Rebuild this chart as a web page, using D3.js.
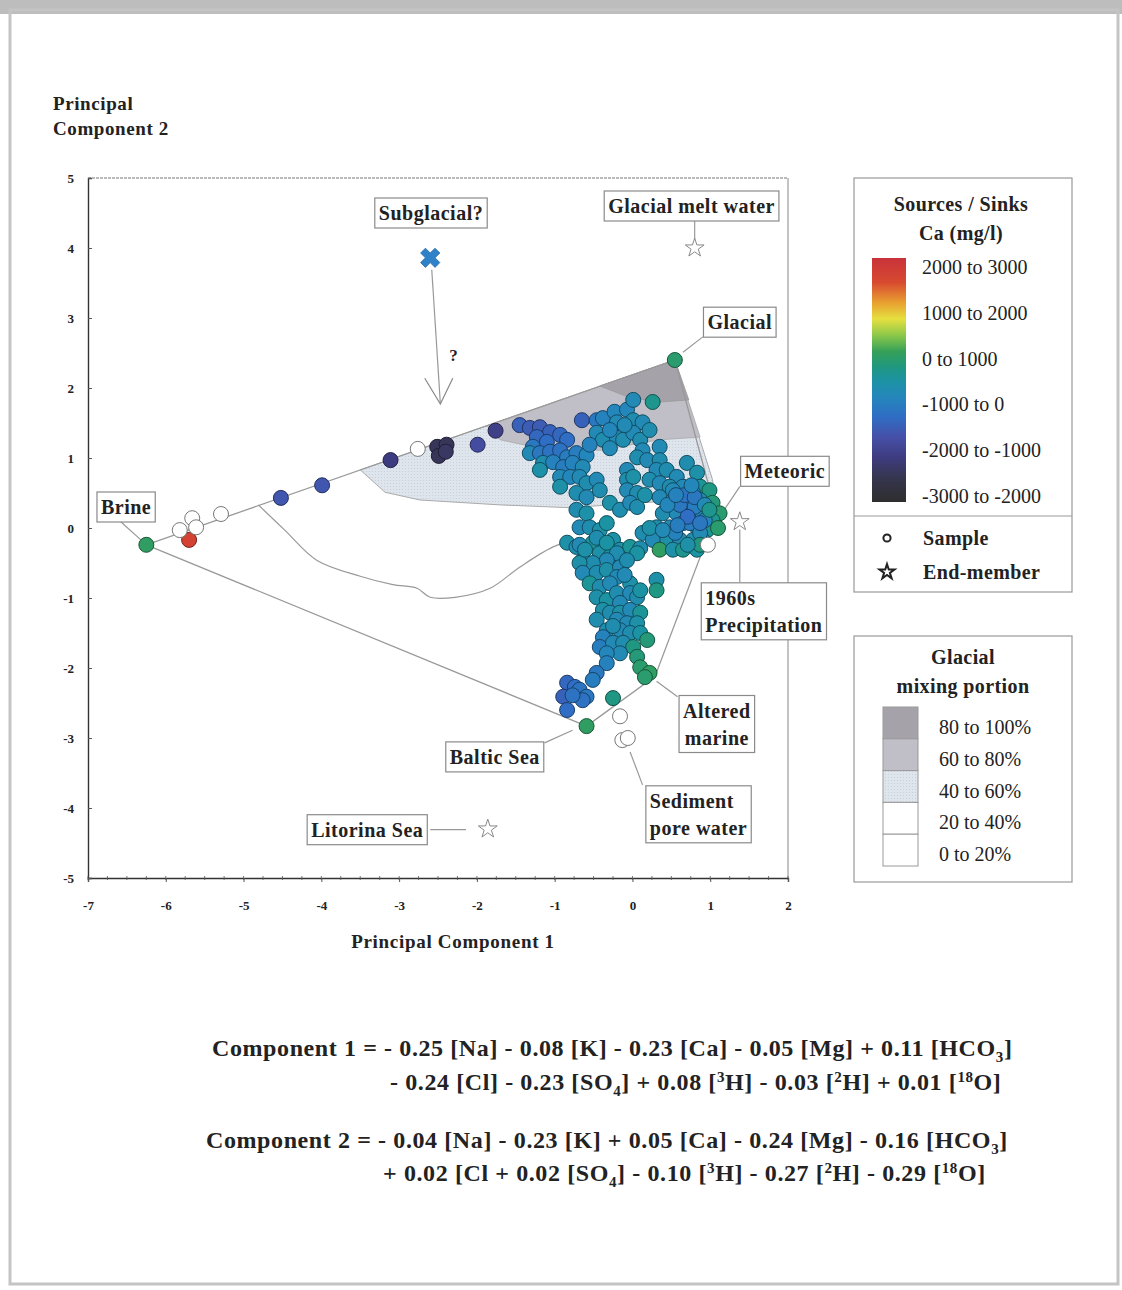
<!DOCTYPE html>
<html>
<head>
<meta charset="utf-8">
<script src="https://cdn.jsdelivr.net/npm/d3@7"></script>
<style>
  body { margin: 0; background: #fff; }
  text { font-family: "Liberation Serif", "Times New Roman", serif; fill: #222; }
</style>
</head>
<body>
<svg id="chart" width="1122" height="1290"></svg>
<script>
// ---------------- data ----------------
const xTicks = [-7, -6, -5, -4, -3, -2, -1, 0, 1, 2];
const yTicks = [5, 4, 3, 2, 1, 0, -1, -2, -3, -4, -5];

// [PC1, PC2, Ca source/sink (mg/l)], null = sample without Ca value (open circle)
const samples = [
  // along the Brine - Glacial mixing line
  [-6.25, -0.24, 600], [-5.70, -0.17, 2600],
  [-5.82, -0.03, null], [-5.66, 0.14, null], [-5.61, 0.01, null], [-5.29, 0.20, null],
  [-4.52, 0.43, -1300], [-3.99, 0.61, -1300], [-3.11, 0.97, -1900], [-2.76, 1.13, null],
  [-2.51, 1.16, -2300], [-2.39, 1.19, -2300], [-2.49, 1.03, -2300], [-2.40, 1.09, -2200],
  [-1.99, 1.19, -1500], [-1.76, 1.39, -1800],
  [0.545, 2.40, 500],
  // upper left of the cluster
  [-1.45, 1.47, -1100], [-1.32, 1.43, -1200], [-1.19, 1.44, -1200], [-1.06, 1.37, -1100],
  [-0.93, 1.33, -1000], [-0.84, 1.26, -900], [-1.23, 1.30, -1000], [-1.10, 1.23, -900],
  [-1.28, 1.16, -700], [-1.32, 1.07, -300], [-1.19, 1.07, -700], [-1.06, 1.09, -800],
  [-0.93, 1.11, -800], [-0.84, 1.01, -600], [-0.72, 1.07, -600], [-0.59, 1.04, -400],
  [-1.15, 0.93, -200], [-1.02, 0.94, -500], [-0.89, 0.87, -600], [-0.77, 0.93, -500],
  [-0.64, 0.87, -300], [-1.19, 0.83, -100], [-0.93, 0.73, -300], [-0.80, 0.73, -400],
  [-0.68, 0.73, -300], [-0.59, 0.64, -200], [-0.46, 0.69, -300], [-0.93, 0.59, -100],
  [-0.72, 0.50, -200], [-0.59, 0.44, -300], [-0.42, 0.54, -200], [-0.29, 0.36, -100],
  [-0.16, 0.26, -200], [-0.72, 0.26, -200], [-0.59, 0.21, -100], [-0.68, 0.01, -300],
  [-0.55, 0.01, -200], [-0.42, -0.03, -100], [-0.33, 0.07, 0], [-0.25, -0.17, -100],
  [-0.84, -0.21, -100], [-0.72, -0.27, -200], [-0.51, -0.21, 100], [-0.42, -0.36, -100],
  [-0.64, -0.46, -200], [-0.29, -0.41, 0], [-0.16, -0.31, -100], [-0.03, -0.27, 100],
  // top of the cluster
  [-0.65, 1.54, -1100], [-0.46, 1.54, -700], [-0.38, 1.57, -500], [-0.23, 1.66, -400],
  [-0.07, 1.69, -400], [0.01, 1.83, -300], [0.26, 1.80, 200], [-0.20, 1.51, -300],
  [0.01, 1.54, -200], [0.13, 1.51, -300], [-0.46, 1.36, -300], [-0.38, 1.26, -200],
  [-0.20, 1.29, -300], [-0.12, 1.26, -200], [0.01, 1.36, -300], [0.10, 1.26, -200],
  [0.13, 1.11, -300], [0.06, 1.01, -200], [0.19, 0.97, -300], [0.35, 1.16, -300],
  [0.35, 0.97, -200], [0.31, 0.83, -300], [0.44, 0.83, -200], [-0.07, 0.83, -300],
  [-0.07, 0.69, -200], [0.01, 0.73, -100], [-0.07, 0.54, -300], [0.06, 0.50, -200],
  [-0.03, 0.36, -300], [0.06, 0.30, -200],
  [-0.29, 1.40, -400], [-0.10, 1.47, -300], [0.22, 1.40, -200], [-0.55, 1.19, -500],
  [-0.29, 1.14, -300], [0.22, 0.69, -200], [0.16, 0.47, -100],
  // meteoric cluster
  [0.70, 0.93, -200], [0.83, 0.79, -100], [0.57, 0.73, -300], [0.35, 0.64, -300],
  [0.48, 0.59, -200], [0.65, 0.59, -300], [0.87, 0.59, 100], [0.99, 0.54, 300],
  [0.35, 0.44, -300], [0.52, 0.40, -200], [0.70, 0.40, -400], [0.87, 0.40, -100],
  [1.03, 0.36, 400], [1.12, 0.21, 500], [0.39, 0.21, -200], [0.57, 0.21, -300],
  [0.74, 0.21, -500], [0.90, 0.21, -200], [1.03, 0.11, 200], [0.31, 0.01, -200],
  [0.48, 0.01, -300], [0.65, 0.07, -400], [0.83, 0.01, -300], [0.96, -0.03, 100],
  [0.44, -0.17, -100], [0.61, -0.17, -200], [0.78, -0.17, -200], [0.90, -0.17, 200],
  [0.13, -0.07, -200], [0.26, -0.17, -300], [0.35, -0.31, 600], [0.52, -0.31, -100],
  [0.65, -0.31, 200], [0.83, -0.31, 0], [0.52, 0.54, -300], [0.78, 0.50, -200],
  [0.61, 0.33, -700], [0.80, 0.30, -600], [0.74, 0.07, -600], [0.93, 0.11, -400],
  [0.55, -0.07, -500], [0.10, -0.29, -200], [0.22, 0.00, -100], [0.87, -0.07, -300],
  [0.67, 0.47, -800], [0.80, 0.44, -700], [0.71, 0.16, -900], [0.58, 0.04, -600],
  [0.87, 0.07, -700], [0.45, 0.33, -400], [0.93, 0.33, -300], [0.76, 0.61, -400],
  [0.56, 0.47, -500], [0.99, 0.26, 200], [0.87, -0.24, 300], [0.71, -0.24, -100],
  [0.39, -0.03, -300], [1.10, 0.00, 500],
  [0.97, -0.24, null],
  // lower column
  [-0.68, -0.24, -300], [-0.46, -0.14, -200], [-0.33, -0.21, 0], [0.06, -0.36, 0],
  [-0.20, -0.36, -200], [-0.33, -0.46, -300], [-0.51, -0.50, -200], [-0.68, -0.50, -100],
  [-0.64, -0.64, -300], [-0.46, -0.64, -200], [-0.33, -0.60, -100], [-0.16, -0.56, -300],
  [-0.07, -0.46, -200], [-0.20, -0.70, -300], [-0.03, -0.79, -100], [-0.55, -0.79, 100],
  [-0.42, -0.84, -200], [-0.29, -0.79, -300], [-0.46, -0.99, -100], [-0.33, -1.03, 0],
  [-0.20, -0.93, -200], [-0.03, -0.93, -300], [0.06, -0.99, -200], [-0.16, -1.07, -300],
  [-0.38, -1.17, -100], [-0.29, -1.21, -200], [-0.16, -1.21, -100], [-0.03, -1.17, -300],
  [0.10, -1.21, 100], [-0.46, -1.31, -200], [-0.20, -1.31, -300], [-0.07, -1.36, -300],
  [0.06, -1.36, -100], [-0.33, -1.46, -200], [-0.16, -1.46, -300], [-0.03, -1.50, -200],
  [0.10, -1.50, 0], [0.19, -1.60, 400], [-0.38, -1.56, -500], [-0.42, -1.70, -600],
  [-0.25, -1.64, -300], [-0.12, -1.64, -200], [0.01, -1.70, 300], [-0.16, -1.79, -300],
  [0.06, -1.84, 400], [-0.33, -1.79, -400], [-0.33, -1.93, -500], [-0.46, -2.07, -700],
  [-0.51, -2.17, -600], [0.10, -1.99, 500], [0.22, -2.07, 600], [0.16, -2.13, 500],
  [0.31, -0.74, -100], [0.31, -0.89, 300],
  [-0.61, -0.31, -100], [-0.10, -0.67, -300], [0.10, -0.89, 0], [-0.25, -1.40, -200],
  // towards Baltic Sea
  [-0.84, -2.21, -1000], [-0.74, -2.27, -900], [-0.68, -2.31, -800], [-0.59, -2.41, -700],
  [-0.64, -2.46, -800], [-0.89, -2.41, -1100], [-0.84, -2.60, -900], [-0.77, -2.39, -800],
  [-0.25, -2.43, 300], [-0.59, -2.83, 600],
  // sediment pore water
  [-0.16, -2.69, null], [-0.13, -3.03, null], [-0.06, -3.00, null]
];

// end-members drawn as stars
const endMembers = [[0.80, 4.00], [1.38, 0.09], [-1.86, -4.30]];
const subglacial = [-2.60, 3.86];

// mixing polygon corners
const brine = [-6.25, -0.24], glacial = [0.545, 2.40], baltic = [-0.59, -2.83];
const meteoricCorner = [1.08, 0.20], alteredMarine = [0.29, -2.12];

// glacial mixing portion zones
const zoneLight = [[-3.50, 0.83], [0.545, 2.40], [1.03, 0.69], [1.06, 0.36], [0.74, 0.40], [0.10, 0.36],
  [-0.80, 0.29], [-1.70, 0.33], [-2.73, 0.40], [-3.18, 0.51]];
const zoneMid = [[-1.87, 1.46], [0.545, 2.40], [0.87, 1.30], [0.35, 1.26], [-0.42, 1.11], [-1.19, 1.14], [-1.70, 1.26]];
const zoneDark = [[-0.42, 2.03], [0.545, 2.40], [0.725, 1.83], [0.35, 1.80], [-0.03, 1.86]];
const zone20 = [[-4.81, 0.33], [-4.47, -0.03], [-4.06, -0.46], [-3.50, -0.69], [-3.08, -0.81], [-2.77, -0.86],
  [-2.60, -0.99], [-2.28, -0.99], [-1.83, -0.86], [-1.45, -0.56], [-1.02, -0.27], [-0.74, -0.17]];

const caStops  = [3000, 2400, 1900, 1500, 1100, 700, 300, 0, -400, -900, -1400, -1900, -2400, -3000];
const caColors = ["#c8323a", "#d84a30", "#e8a030", "#e6e040", "#8cc84a", "#35a058", "#1f9782", "#1c93a2",
  "#2487bb", "#2f6ec4", "#4650a8", "#3e3c80", "#35354f", "#2e2e2e"];
const caLabels = ["2000 to 3000", "1000 to 2000", "0 to 1000", "-1000 to 0", "-2000 to -1000", "-3000 to -2000"];

const mixLabels = ["80 to 100%", "60 to 80%", "40 to 60%", "20 to 40%", "0 to 20%"];
const mixColors = ["#a6a2aa", "#c0bec6", "#dfe5ec", "#ffffff", "#ffffff"];

const annotations = [
  { text: ["Brine"], at: [-6.51, 0.30], lead: [[-6.59, 0.10], [-6.32, -0.17]] },
  { text: ["Subglacial?"], at: [-2.59, 4.50] },
  { text: ["Glacial melt water"], at: [0.76, 4.60], lead: [[0.80, 4.40], [0.80, 4.12]] },
  { text: ["Glacial"], at: [1.38, 2.94], lead: [[0.905, 2.73], [0.65, 2.51]] },
  { text: ["Meteoric"], at: [1.96, 0.81], lead: [[1.38, 0.59], [1.15, 0.21]] },
  { text: ["1960s", "Precipitation"], at: [1.69, -1.19], lead: [[1.38, -0.02], [1.38, -0.77]], left: true },
  { text: ["Altered", "marine"], at: [1.085, -2.80], lead: [[0.31, -2.19], [0.58, -2.41]] },
  { text: ["Baltic Sea"], at: [-1.77, -3.27], lead: [[-1.13, -3.07], [-0.77, -2.89]] },
  { text: ["Sediment", "pore water"], at: [0.85, -4.09], lead: [[-0.03, -3.20], [0.13, -3.67]], left: true },
  { text: ["Litorina Sea"], at: [-3.41, -4.31], lead: [[-2.60, -4.31], [-2.14, -4.31]] }
];

const eq1 = ["Component 1 = - 0.25 [Na] - 0.08 [K] - 0.23 [Ca] - 0.05 [Mg] + 0.11 [HCO_3]",
             "- 0.24 [Cl] - 0.23 [SO_4] + 0.08 [^3H] - 0.03 [^2H] + 0.01 [^18O]"];
const eq2 = ["Component 2 = - 0.04 [Na] - 0.23 [K] + 0.05 [Ca] - 0.24 [Mg] - 0.16 [HCO_3]",
             "+ 0.02 [Cl + 0.02 [SO_4] - 0.10 [^3H] - 0.27 [^2H] - 0.29 [^18O]"];

// ---------------- drawing ----------------
const svg = d3.select("#chart");

// scanned page frame
svg.append("rect").attr("x", 0).attr("y", 0).attr("width", 1122).attr("height", 14).attr("fill", "#bdbdbd");
svg.append("rect").attr("x", 10).attr("y", 10).attr("width", 1108).attr("height", 1274)
  .attr("fill", "none").attr("stroke", "#c4c4c4").attr("stroke-width", 3);

const x = d3.scaleLinear().domain([-7, 2]).range([88, 788]);
const y = d3.scaleLinear().domain([-5, 5]).range([878, 178]);
const color = d3.scaleLinear().domain(caStops).range(caColors);

// dotted pattern for 40-60% zone
const defs = svg.append("defs");
const pat = defs.append("pattern").attr("id", "dots").attr("width", 3).attr("height", 3)
  .attr("patternUnits", "userSpaceOnUse");
pat.append("rect").attr("width", 3).attr("height", 3).attr("fill", mixColors[2]);
pat.append("rect").attr("width", 1).attr("height", 1).attr("fill", "#c9d0da");

const line = d3.line().x(d => x(d[0])).y(d => y(d[1]));
const zones = svg.append("g");
zones.append("path").attr("d", line(zoneLight) + "Z").attr("fill", "url(#dots)").attr("stroke", "#aaa").attr("stroke-width", 1);
zones.append("path").attr("d", line(zoneMid) + "Z").attr("fill", mixColors[1]).attr("stroke", "#aaa").attr("stroke-width", 0.8);
zones.append("path").attr("d", line(zoneDark) + "Z").attr("fill", mixColors[0]).attr("stroke", "#999").attr("stroke-width", 0.8);
zones.append("path").attr("d", d3.line().x(d => x(d[0])).y(d => y(d[1])).curve(d3.curveCatmullRom)(zone20))
  .attr("fill", "none").attr("stroke", "#999").attr("stroke-width", 1.2);

// mixing lines
const mix = svg.append("g").attr("fill", "none").attr("stroke", "#999").attr("stroke-width", 1.3);
mix.append("path").attr("d", line([brine, glacial]));
mix.append("path").attr("d", line([brine, baltic]));
mix.append("path").attr("d", line([glacial, meteoricCorner, alteredMarine, baltic]));

// frame and axes
svg.append("line").attr("x1", x(-7)).attr("x2", x(2)).attr("y1", y(5)).attr("y2", y(5))
  .attr("stroke", "#777").attr("stroke-width", 1).attr("stroke-dasharray", "3,1");
svg.append("line").attr("x1", x(2)).attr("x2", x(2)).attr("y1", y(5)).attr("y2", y(-5))
  .attr("stroke", "#888").attr("stroke-width", 1);

const xAxis = svg.append("g").attr("transform", `translate(0,${y(-5)})`)
  .call(d3.axisBottom(x).tickValues(xTicks).tickSize(4).tickPadding(19).tickFormat(d3.format("d")));
const yAxis = svg.append("g").attr("transform", `translate(${x(-7)},0)`)
  .call(d3.axisLeft(y).tickValues(yTicks).tickSize(-4).tickPadding(14).tickFormat(d3.format("d")));
[xAxis, yAxis].forEach(a => {
  a.select(".domain").attr("stroke", "#333").attr("stroke-width", 1.4);
  a.selectAll(".tick line").attr("stroke", "#555");
  a.selectAll(".tick text").attr("font-family", "Liberation Serif").attr("font-size", 13)
    .attr("font-weight", "bold").attr("fill", "#333")
    .text(d => d < 0 ? "-" + Math.abs(d) : d);
});
// minor ticks on x axis
svg.append("g").selectAll("line").data(d3.range(-7, 2.001, 0.25)).join("line")
  .attr("x1", d => x(d)).attr("x2", d => x(d)).attr("y1", y(-5) - 2).attr("y2", y(-5) + 2)
  .attr("stroke", "#555").attr("stroke-width", 0.8);

// axis titles
svg.append("text").attr("x", 53).attr("y", 110).attr("font-size", 19).attr("font-weight", "bold")
  .attr("letter-spacing", 0.6).text("Principal");
svg.append("text").attr("x", 53).attr("y", 135).attr("font-size", 19).attr("font-weight", "bold")
  .attr("letter-spacing", 0.6).text("Component 2");
svg.append("text").attr("x", (x(-7) + x(2)) / 2 + 15).attr("y", 948).attr("text-anchor", "middle")
  .attr("font-size", 19).attr("font-weight", "bold").attr("letter-spacing", 0.7).text("Principal Component 1");

// leader lines
const leads = svg.append("g").attr("stroke", "#999").attr("stroke-width", 1.2).attr("fill", "none");
annotations.filter(a => a.lead).forEach(a => leads.append("path").attr("d", line(a.lead)));

// subglacial arrow
leads.append("path").attr("d", line([[-2.58, 3.69], [-2.47, 1.78]]));
leads.append("path").attr("d", line([[-2.67, 2.14], [-2.47, 1.77], [-2.31, 2.14]])).attr("stroke", "#888");
svg.append("text").attr("x", x(-2.30)).attr("y", y(2.47)).attr("text-anchor", "middle").attr("dy", "0.35em")
  .attr("font-size", 17).attr("font-weight", "bold").text("?");

// samples
svg.append("g").selectAll("circle").data(samples).join("circle")
  .attr("cx", d => x(d[0])).attr("cy", d => y(d[1])).attr("r", 7.5)
  .attr("fill", d => d[2] === null ? "#fff" : color(d[2]))
  .attr("stroke", d => d[2] === null ? "#777" : d3.color(color(d[2])).darker(1.7))
  .attr("stroke-width", 1);

// end-members
svg.append("g").selectAll("path").data(endMembers).join("path")
  .attr("d", d3.symbol(d3.symbolStar, 110))
  .attr("transform", d => `translate(${x(d[0])},${y(d[1])})`)
  .attr("fill", "#fff").attr("stroke", "#888").attr("stroke-width", 1);
svg.append("path").attr("d", d3.symbol(d3.symbolCross, 230))
  .attr("transform", `translate(${x(subglacial[0])},${y(subglacial[1])}) rotate(45)`)
  .attr("fill", "#2f82c8").attr("stroke", "#2a6fae").attr("stroke-width", 0.8);

// label boxes
annotations.forEach(a => {
  const g = svg.append("g");
  const lh = 27;
  const cx = x(a.at[0]), cy = y(a.at[1]);
  const t = g.append("text").attr("font-size", 20).attr("font-weight", "bold").attr("letter-spacing", 0.5)
    .attr("text-anchor", a.left ? "start" : "middle");
  a.text.forEach((s, i) => t.append("tspan").attr("x", cx).attr("y", cy + (i - (a.text.length - 1) / 2) * lh)
    .attr("dy", "0.35em").text(s));
  const bb = t.node().getBBox();
  const w = bb.width + 8;
  const bx = cx - w / 2;
  if (a.left) t.selectAll("tspan").attr("x", bx + 4);
  const h = a.text.length * lh + 3;
  g.insert("rect", "text").attr("x", bx).attr("y", cy - h / 2).attr("width", w).attr("height", h)
    .attr("fill", "#fff").attr("stroke", "#8a8a8a").attr("stroke-width", 1.2);
});

// ---- legend 1: Ca sources / sinks ----
const L1 = svg.append("g");
L1.append("rect").attr("x", 854).attr("y", 178).attr("width", 218).attr("height", 414)
  .attr("fill", "#fff").attr("stroke", "#999").attr("stroke-width", 1.2);
L1.append("line").attr("x1", 854).attr("x2", 1072).attr("y1", 516).attr("y2", 516).attr("stroke", "#999").attr("stroke-width", 1.2);
L1.append("text").attr("x", 961).attr("y", 211).attr("text-anchor", "middle").attr("font-size", 20)
  .attr("font-weight", "bold").attr("letter-spacing", 0.4).text("Sources / Sinks");
L1.append("text").attr("x", 961).attr("y", 240).attr("text-anchor", "middle").attr("font-size", 20)
  .attr("font-weight", "bold").attr("letter-spacing", 0.4).text("Ca (mg/l)");

const barY = d3.scaleLinear().domain([3000, -3000]).range([258, 502]);
const grad = defs.append("linearGradient").attr("id", "caGrad").attr("x1", 0).attr("x2", 0).attr("y1", 0).attr("y2", 1);
caStops.forEach((v, i) => grad.append("stop").attr("offset", (barY(v) - 258) / 244).attr("stop-color", caColors[i]));
L1.append("rect").attr("x", 872).attr("y", barY(3000)).attr("width", 34).attr("height", barY(-3000) - barY(3000))
  .attr("fill", "url(#caGrad)");
const labY = d3.scaleLinear().domain([0, caLabels.length - 1]).range([267, 496]);
L1.selectAll(".calab").data(caLabels).join("text").attr("class", "calab")
  .attr("x", 922).attr("y", (d, i) => labY(i)).attr("dy", "0.35em").attr("font-size", 20).text(d => d);

L1.append("circle").attr("cx", 887).attr("cy", 538).attr("r", 3.6).attr("fill", "#fff").attr("stroke", "#222").attr("stroke-width", 2);
L1.append("text").attr("x", 923).attr("y", 538).attr("dy", "0.35em").attr("font-size", 20).attr("font-weight", "bold")
  .attr("letter-spacing", 0.4).text("Sample");
L1.append("path").attr("d", d3.symbol(d3.symbolStar, 70)).attr("transform", "translate(887,572)")
  .attr("fill", "#fff").attr("stroke", "#222").attr("stroke-width", 2);
L1.append("text").attr("x", 923).attr("y", 572).attr("dy", "0.35em").attr("font-size", 20).attr("font-weight", "bold")
  .attr("letter-spacing", 0.4).text("End-member");

// ---- legend 2: glacial mixing portion ----
const L2 = svg.append("g");
L2.append("rect").attr("x", 854).attr("y", 636).attr("width", 218).attr("height", 246)
  .attr("fill", "#fff").attr("stroke", "#999").attr("stroke-width", 1.2);
L2.append("text").attr("x", 963).attr("y", 664).attr("text-anchor", "middle").attr("font-size", 20)
  .attr("font-weight", "bold").attr("letter-spacing", 0.4).text("Glacial");
L2.append("text").attr("x", 963).attr("y", 693).attr("text-anchor", "middle").attr("font-size", 20)
  .attr("font-weight", "bold").attr("letter-spacing", 0.4).text("mixing portion");
const swY = d3.scaleBand().domain(mixLabels).range([707, 866]);
L2.selectAll(".sw").data(mixLabels).join("rect").attr("class", "sw")
  .attr("x", 883).attr("y", d => swY(d)).attr("width", 35).attr("height", swY.bandwidth())
  .attr("fill", (d, i) => i === 2 ? "url(#dots)" : mixColors[i]).attr("stroke", "#999").attr("stroke-width", 1);
L2.selectAll(".swl").data(mixLabels).join("text").attr("class", "swl")
  .attr("x", 939).attr("y", d => swY(d) + swY.bandwidth() / 2 + 4).attr("dy", "0.35em").attr("font-size", 20).text(d => d);

// ---- equations ----
function eqText(str, x0, y0) {
  const t = svg.append("text").attr("x", x0).attr("y", y0).attr("font-size", 24).attr("font-weight", "bold")
    .attr("letter-spacing", 0.6);
  const parts = str.split(/([_^]\d+)/);
  let shift = 0;
  parts.forEach(p => {
    if (!p) return;
    let dy = 0, fs = null, s = p;
    if (p[0] === "_") { dy = 6; fs = 15; s = p.slice(1); }
    else if (p[0] === "^") { dy = -8; fs = 15; s = p.slice(1); }
    const ts = t.append("tspan").text(s);
    if (fs) ts.attr("font-size", fs);
    if (dy - shift !== 0) ts.attr("dy", dy - shift);
    shift = dy;
  });
}
eqText(eq1[0], 212, 1056);
eqText(eq1[1], 390, 1090);
eqText(eq2[0], 206, 1148);
eqText(eq2[1], 383, 1181);
</script>
</body>
</html>
